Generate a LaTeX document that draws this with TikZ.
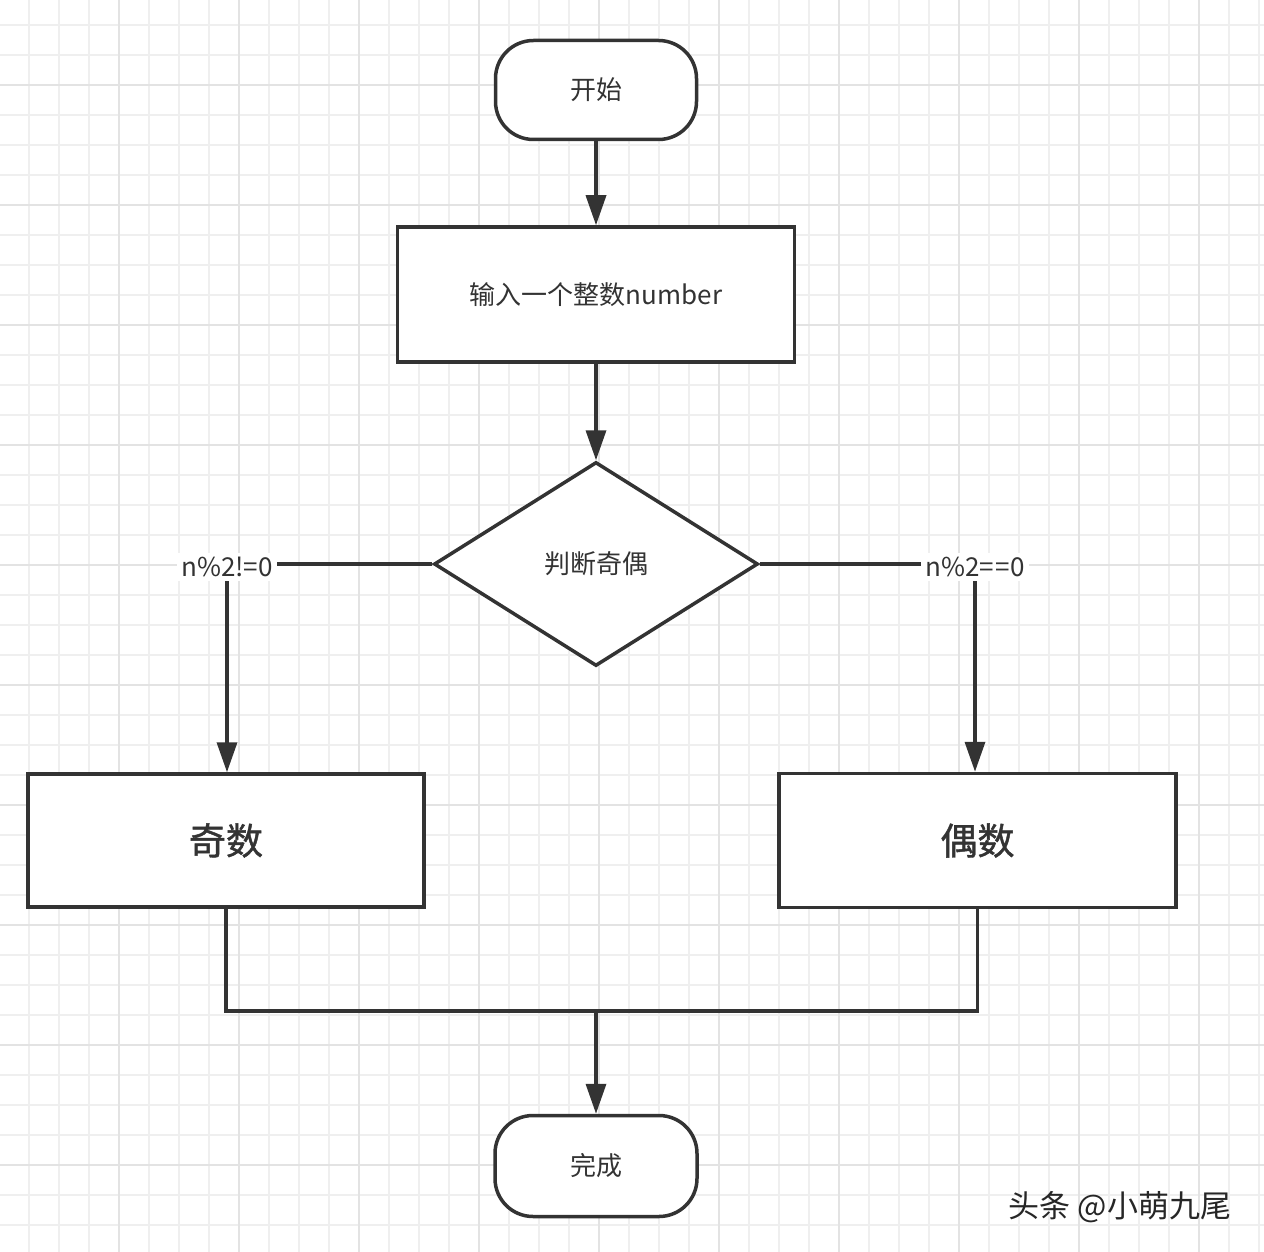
\documentclass[tikz,border=0pt]{standalone}
\usepackage{fontspec}
\setmainfont{Noto Sans CJK SC}
\newfontfamily\heavycjk[FakeBold=1.2]{Noto Sans CJK SC}
\usetikzlibrary{arrows.meta,shapes.geometric}
\definecolor{ink}{HTML}{333333}
\definecolor{gridminor}{HTML}{EFEFEF}
\definecolor{gridmajor}{HTML}{E3E3E3}
\tikzset{
  boxstyle/.style={draw=ink, line width=3.5pt, fill=white, rectangle, inner sep=0pt, text=ink},
  termstyle/.style={boxstyle, rounded corners=38pt},
  decstyle/.style={draw=ink, line width=3.5pt, fill=white, diamond, inner sep=0pt, text=ink},
  lblstyle/.style={fill=white, inner sep=4pt, text=ink, font=\fontsize{26}{30}\selectfont},
  conn/.style={draw=ink, line width=3.5pt},
  arr/.style={conn, -{Triangle[width=20pt,length=30pt]}},
}
\begin{document}
\begin{tikzpicture}[x=1pt,y=-1pt]
\useasboundingbox (0,0) rectangle (1264,1252);
\fill[white] (0,0) rectangle (1264,1252);
% grid
\foreach \gx in {29,59,...,1259} {\draw[gridminor, line width=1.6pt] (\gx,0) -- (\gx,1252);}
\foreach \gy in {25,55,...,1245} {\draw[gridminor, line width=1.6pt] (0,\gy) -- (1264,\gy);}
\foreach \gx in {119,239,...,1199} {\draw[gridmajor, line width=2pt] (\gx,0) -- (\gx,1252);}
\foreach \gy in {85,205,...,1165} {\draw[gridmajor, line width=2pt] (0,\gy) -- (1264,\gy);}

% nodes
\node[termstyle, minimum width=201pt, minimum height=99pt, font=\fontsize{26}{30}\selectfont] (start) at (596,90) {开始};
\node[boxstyle, minimum width=397pt, minimum height=135pt, font=\fontsize{26}{30}\selectfont] (input) at (596,294.5) {输入一个整数number};
\node[decstyle, minimum width=324pt, minimum height=204pt, aspect=1.59, font=\fontsize{26}{30}\selectfont] (dec) at (596,564) {判断奇偶};
\node[boxstyle, minimum width=396pt, minimum height=133pt, font=\heavycjk\fontsize{37}{40}\selectfont] (odd) at (226,840.5) {奇数};
\node[boxstyle, minimum width=397pt, minimum height=134pt, font=\heavycjk\fontsize{37}{40}\selectfont] (even) at (977.5,840.5) {偶数};
\node[termstyle, minimum width=202pt, minimum height=101pt, font=\fontsize{26}{30}\selectfont] (finish) at (596,1166) {完成};
\node[lblstyle] (lblL) at (227,567) {n\%2!=0};
\node[lblstyle] (lblR) at (975,567) {n\%2=\kern2pt=0};
\coordinate (merge) at (596,1011);

% connectors
\draw[arr] (start.south) -- (input.north);
\draw[arr] (input.south) -- (dec.north);
\draw[conn] (dec.west) -- (dec.west -| lblL.east);
\draw[conn] (dec.east) -- (dec.east -| lblR.west);
\draw[arr] (lblL.south) -- (lblL.south |- odd.north);
\draw[arr] (lblR.south) -- (lblR.south |- even.north);
\draw[conn] (odd.south) -- (odd.south |- merge) -- (even.south |- merge) -- (even.south);
\draw[arr] (merge) -- (finish.north);

% watermark
\node[text=black!85, font=\fontsize{31}{34}\selectfont, inner sep=0pt] (wm) at (1120,1207) {头条 @小萌九尾};
\end{tikzpicture}
\end{document}
